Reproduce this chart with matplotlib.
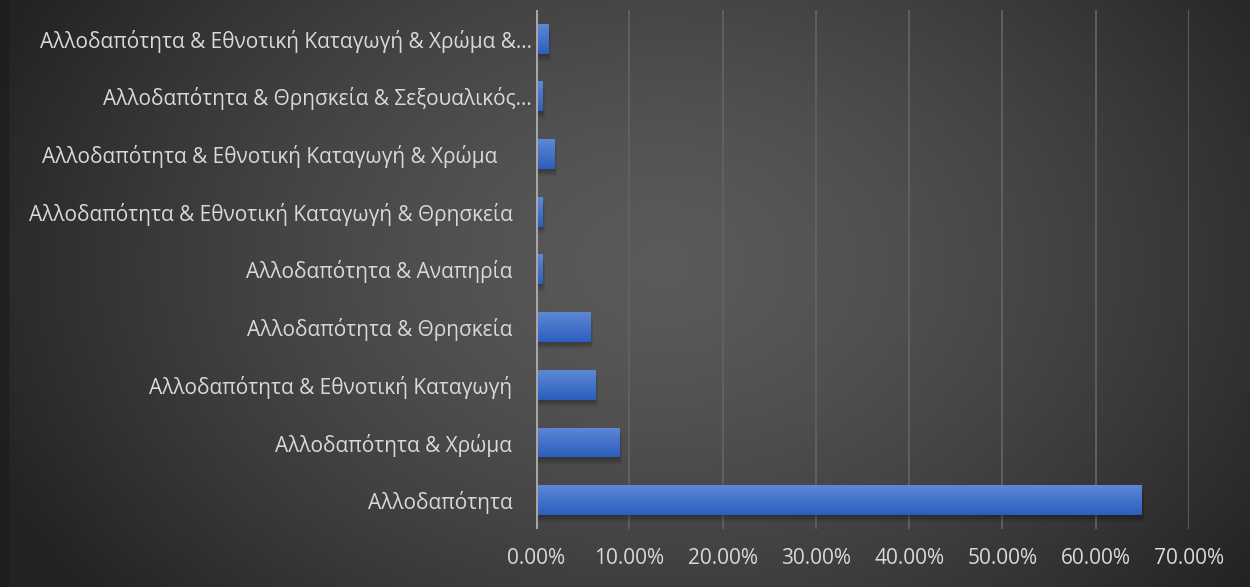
import matplotlib
matplotlib.use("Agg")
import matplotlib.pyplot as plt
import matplotlib.transforms as mtransforms
from matplotlib.ticker import FuncFormatter
import numpy as np

# categories, bottom to top
categories = [
    "Αλλοδαπότητα",
    "Αλλοδαπότητα & Χρώμα",
    "Αλλοδαπότητα & Εθνοτική Καταγωγή",
    "Αλλοδαπότητα & Θρησκεία",
    "Αλλοδαπότητα & Αναπηρία",
    "Αλλοδαπότητα & Εθνοτική Καταγωγή & Θρησκεία",
    "Αλλοδαπότητα & Εθνοτική Καταγωγή & Χρώμα",
    "Αλλοδαπότητα & Θρησκεία & Σεξουαλικός…",
    "Αλλοδαπότητα & Εθνοτική Καταγωγή & Χρώμα &…",
]
shares = [0.6495, 0.0893, 0.0636, 0.0582, 0.0068, 0.0068, 0.0196, 0.0068, 0.0132]
xticks = [0, 0.1, 0.2, 0.3, 0.4, 0.5, 0.6, 0.7]

plt.rcParams['font.family'] = ['Open Sans', 'DejaVu Sans']

fig = plt.figure(figsize=(12.5, 5.87), dpi=100)

# background radial gradient
bg = fig.add_axes([0, 0, 1, 1], zorder=-10)
gx, gy = np.meshgrid(np.linspace(0, 1, 625), np.linspace(0, 1, 300))
r = np.sqrt(((gx - 0.53) / 0.55) ** 2 + ((gy - 0.55) / 0.85) ** 2)
lev = np.clip(0.355 - 0.2 * r ** 1.4, 0.14, 0.36)
bg.imshow(np.dstack([lev, lev, lev]), aspect='auto', extent=[0, 1, 0, 1], origin='lower')
bg.axvspan(0, 0.006, color='#1c1c1c', alpha=0.6)
bg.set_xlim(0, 1)
bg.set_ylim(0, 1)
bg.set_axis_off()

ax = fig.add_axes([0.4288, 0.0988, 0.9512 - 0.4288, 0.983 - 0.0988])
ax.patch.set_alpha(0)

y = np.arange(len(categories))
bars = ax.barh(y, shares, height=0.52, color='#3f6fcc', zorder=3)

# blue vertical gradient on each bar, plus a soft shadow
grad = np.linspace(0, 1, 64).reshape(-1, 1)
top = np.array([0.37, 0.53, 0.84])
bot = np.array([0.17, 0.37, 0.74])
cimg = bot + (top - bot) * grad[:, :, None] * np.ones((1, 2, 1))
for b in bars:
    x0, y0 = b.get_x(), b.get_y()
    w, h = b.get_width(), b.get_height()
    for k in range(1, 5):
        d = 0.0006 * k
        ax.barh(y0 + h / 2 - 0.03 * k, w + d, height=h, left=0,
                color='black', alpha=0.07, zorder=2, linewidth=0)
    im = ax.imshow(cimg, extent=[x0, x0 + w, y0, y0 + h], origin='lower',
                   aspect='auto', zorder=4)
    im.set_clip_path(b)

ax.set_xlim(0, 0.7)
ax.set_ylim(-0.5, len(categories) - 0.5)
ax.set_xticks(xticks)
ax.xaxis.set_major_formatter(FuncFormatter(lambda v, p: f"{v * 100:.2f}%"))
ax.set_yticks(y)
ax.set_yticklabels(categories)

ax.grid(axis='x', color='#626262', linewidth=1.3, zorder=0)
ax.axvline(0, color='#a6a6a6', linewidth=2.2, zorder=5)
for s in ax.spines.values():
    s.set_visible(False)
ax.tick_params(axis='both', length=0, colors='#d9d9d9', labelsize=15)
ax.tick_params(axis='x', pad=14)
ax.tick_params(axis='y', pad=17)

# label with trailing space sits left, truncated labels sit further right
shifts = {6: -0.15, 7: 0.19, 8: 0.20}
for i, dx in shifts.items():
    lab = ax.get_yticklabels()[i]
    lab.set_transform(lab.get_transform() + mtransforms.ScaledTranslation(dx, 0, fig.dpi_scale_trans))

fig.savefig("out.png", dpi=100)
